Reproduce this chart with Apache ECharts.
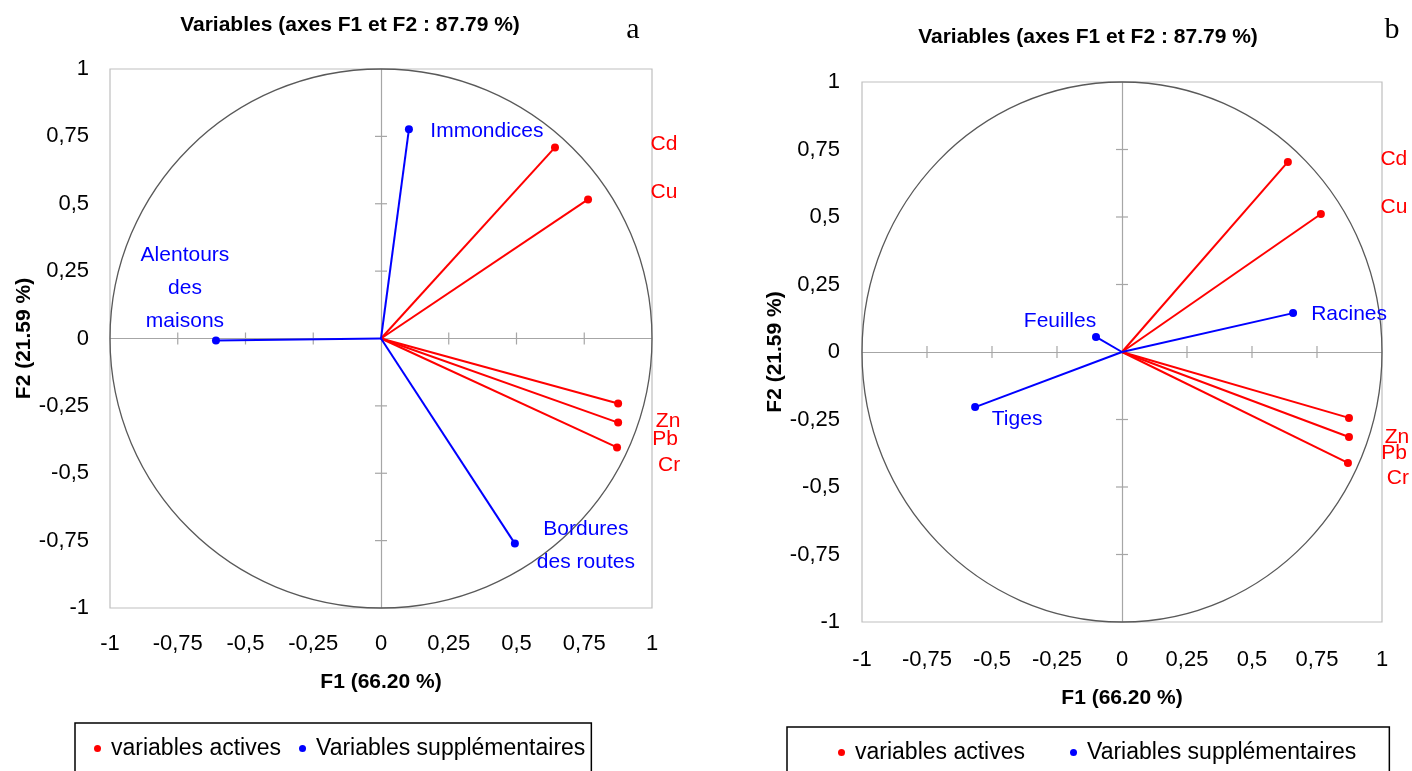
<!DOCTYPE html>
<html><head><meta charset="utf-8">
<script src="https://cdn.jsdelivr.net/npm/echarts@6/dist/echarts.min.js"></script>
<style>html,body{margin:0;padding:0;background:#fff}#c{width:1412px;height:771px}</style>
</head><body><div id="c"></div>
<script>
// ---- data ----
const tickValues = [-1, -0.75, -0.5, -0.25, 0, 0.25, 0.5, 0.75, 1];
const tickLabels = ['-1', '-0,75', '-0,5', '-0,25', '0', '0,25', '0,5', '0,75', '1'];
const innerTicks = [-0.75, -0.5, -0.25, 0.25, 0.5, 0.75];
const activeNames = ['Cd', 'Cu', 'Zn', 'Pb', 'Cr'];
const activeA = [[0.642, 0.709], [0.764, 0.516], [0.875, -0.241], [0.875, -0.312], [0.871, -0.404]];
const activeB = [[0.638, 0.704], [0.765, 0.511], [0.873, -0.244], [0.873, -0.315], [0.869, -0.411]];
const suppNamesA = ['Immondices', 'Alentours\ndes\nmaisons', 'Bordures\ndes routes'];
const suppA = [[0.103, 0.776], [-0.609, -0.007], [0.494, -0.761]];
const suppNamesB = ['Racines', 'Feuilles', 'Tiges'];
const suppB = [[0.658, 0.144], [-0.100, 0.056], [-0.565, -0.204]];
const seriesNames = ['variables actives', 'Variables supplémentaires'];
const titleText = 'Variables (axes F1 et F2 : 87.79 %)';
const xName = 'F1 (66.20 %)';
const yName = 'F2 (21.59 %)';

// ---- label offsets (pixels, layout only) ----
const activeOffA = [[109, -3], [76, -7], [50, 18], [47, 17], [52, 18]];
const activeOffB = [[106, -3], [73, -7], [48, 19], [45, 16], [50, 15]];
const suppOffA = [[78, 2], [-31, -52], [71, 2]];
const suppOffB = [[56, 1], [-36, -16], [42, 12]];

const FONT = 'Liberation Sans, Arial, sans-serif';
const RED = '#ff0000', BLUE = '#0000ff';

function fmt(v) { const i = tickValues.findIndex(t => Math.abs(t - v) < 1e-9); return i >= 0 ? tickLabels[i] : ''; }

function axes(g, xGap, yGap, xm, ym) {
  return {
    x: {
      gridIndex: g, type: 'value', min: -1, max: 1, interval: 0.25,
      axisLine: { show: false }, axisTick: { show: false }, splitLine: { show: false },
      axisLabel: { formatter: fmt, fontSize: 22, color: '#000', fontFamily: FONT, margin: xm },
      name: xName, nameLocation: 'middle', nameGap: xGap,
      nameTextStyle: { fontWeight: 'bold', fontSize: 21, color: '#000', fontFamily: FONT }
    },
    y: {
      gridIndex: g, type: 'value', min: -1, max: 1, interval: 0.25,
      axisLine: { show: false }, axisTick: { show: false }, splitLine: { show: false },
      axisLabel: { formatter: fmt, fontSize: 22, color: '#000', fontFamily: FONT, margin: ym },
      name: yName, nameLocation: 'middle', nameGap: yGap, nameRotate: 90,
      nameTextStyle: { fontWeight: 'bold', fontSize: 21, color: '#000', fontFamily: FONT }
    }
  };
}

function panelSeries(g, act, actOff, supp, suppNames, suppOff) {
  const list = [];
  list.push({
    type: 'lines', coordinateSystem: 'cartesian2d', xAxisIndex: g, yAxisIndex: g, silent: true, z: 1,
    lineStyle: { color: '#a6a6a6', width: 1.2, opacity: 1 },
    data: [{ coords: [[tickValues[0], 0], [tickValues[tickValues.length - 1], 0]] },
           { coords: [[0, tickValues[0]], [0, tickValues[tickValues.length - 1]]] }]
  });
  list.push({
    type: 'custom', xAxisIndex: g, yAxisIndex: g, silent: true, z: 1,
    data: innerTicks.map(v => [v, v]),
    encode: { x: 0, y: 1 },
    renderItem: function (params, api) {
      const v = api.value(0);
      const px = api.coord([v, 0]);
      const py = api.coord([0, v]);
      const st = { stroke: '#a6a6a6', lineWidth: 1.2 };
      return { type: 'group', children: [
        { type: 'line', shape: { x1: px[0], y1: px[1] - 6, x2: px[0], y2: px[1] + 6 }, style: st },
        { type: 'line', shape: { x1: py[0] - 6, y1: py[1], x2: py[0] + 6, y2: py[1] }, style: st }
      ] };
    }
  });
  list.push({
    type: 'custom', xAxisIndex: g, yAxisIndex: g, silent: true, z: 2, clip: false,
    data: [[0, 0]], encode: { x: 0, y: 1 },
    renderItem: function (params, api) {
      const c = api.coord([0, 0]);
      const s = api.size([1, 1]);
      return { type: 'ellipse', shape: { cx: c[0], cy: c[1], rx: s[0], ry: s[1] },
        style: { fill: 'none', stroke: '#595959', lineWidth: 1.3 } };
    }
  });
  list.push({
    name: seriesNames[0], type: 'lines', coordinateSystem: 'cartesian2d', xAxisIndex: g, yAxisIndex: g, z: 3,
    lineStyle: { color: RED, width: 2, opacity: 1 },
    data: act.map(p => ({ coords: [[0, 0], p] }))
  });
  list.push({
    name: seriesNames[1], type: 'lines', coordinateSystem: 'cartesian2d', xAxisIndex: g, yAxisIndex: g, z: 3,
    lineStyle: { color: BLUE, width: 2, opacity: 1 },
    data: supp.map(p => ({ coords: [[0, 0], p] }))
  });
  list.unshift({
    name: seriesNames[0], type: 'scatter', xAxisIndex: g, yAxisIndex: g, z: 4,
    symbolSize: 8, itemStyle: { color: RED, opacity: 1 },
    data: act.map((p, i) => ({
      value: p, name: activeNames[i],
      label: { show: true, position: 'inside', offset: actOff[i], formatter: activeNames[i],
        color: RED, fontSize: 21, fontFamily: FONT, align: 'center', verticalAlign: 'middle' }
    }))
  });
  list.unshift({
    name: seriesNames[1], type: 'scatter', xAxisIndex: g, yAxisIndex: g, z: 4,
    symbolSize: 8, itemStyle: { color: BLUE, opacity: 1 },
    data: supp.map((p, i) => ({
      value: p, name: suppNames[i],
      label: { show: true, position: 'inside', offset: suppOff[i], formatter: suppNames[i],
        color: BLUE, fontSize: 21, lineHeight: 33, fontFamily: FONT, align: 'center', verticalAlign: 'middle' }
    }))
  });
  return list;
}

const aA = axes(0, 64, 72, 25, 21);
const aB = axes(1, 66, 74, 27, 22);

const legendBase = {
  icon: 'circle', itemWidth: 7, itemHeight: 7, orient: 'horizontal',
  borderColor: '#000', borderWidth: 1.5, backgroundColor: '#fff',
  textStyle: { fontSize: 23, color: '#000', fontFamily: FONT, padding: [0, 0, 0, 5] },
  data: [seriesNames[0], seriesNames[1]]
};

const option = {
  animation: false,
  backgroundColor: '#fff',
  title: [
    { text: titleText, left: 345, top: 10, textAlign: 'center',
      textStyle: { fontSize: 21, fontWeight: 'bold', color: '#000', fontFamily: FONT } },
    { text: titleText, left: 1083, top: 22, textAlign: 'center',
      textStyle: { fontSize: 21, fontWeight: 'bold', color: '#000', fontFamily: FONT } },
    { text: 'a', left: 628, top: 10, textAlign: 'center',
      textStyle: { fontSize: 30, fontWeight: 'normal', color: '#000', fontFamily: 'Liberation Serif, Times New Roman, serif' } },
    { text: 'b', left: 1387, top: 10, textAlign: 'center',
      textStyle: { fontSize: 30, fontWeight: 'normal', color: '#000', fontFamily: 'Liberation Serif, Times New Roman, serif' } }
  ],
  legend: [
    Object.assign({}, legendBase, { left: 75, top: 723, itemGap: 18, padding: [14, 6, 30, 19] }),
    Object.assign({}, legendBase, { left: 787, top: 727, itemGap: 45, padding: [14, 33, 30, 51] })
  ],
  grid: [
    { left: 110, top: 69, right: 760, bottom: 163, show: true, borderColor: '#bfbfbf', borderWidth: 1.2 },
    { left: 862, top: 82, right: 30, bottom: 149, show: true, borderColor: '#bfbfbf', borderWidth: 1.2 }
  ],
  xAxis: [aA.x, aB.x],
  yAxis: [aA.y, aB.y],
  series: [].concat(
    panelSeries(0, activeA, activeOffA, suppA, suppNamesA, suppOffA),
    panelSeries(1, activeB, activeOffB, suppB, suppNamesB, suppOffB)
  )
};

const chart = echarts.init(document.getElementById('c'), null, { renderer: 'canvas' });
chart.setOption(option);
</script>
</body></html>
